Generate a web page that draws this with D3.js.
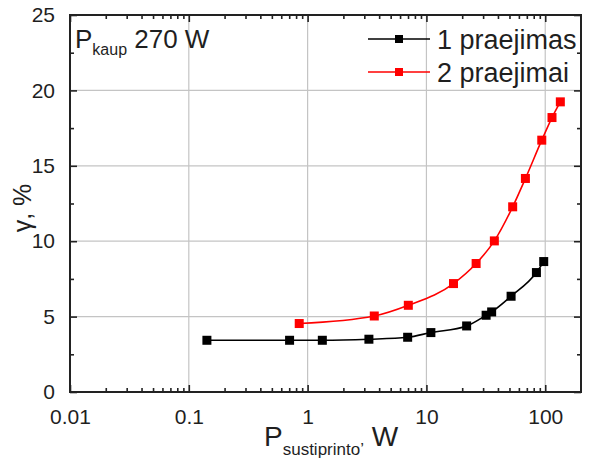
<!DOCTYPE html>
<html>
<head>
<meta charset="utf-8">
<script src="https://cdn.jsdelivr.net/npm/d3@7"></script>
<style>
  html, body { margin: 0; padding: 0; background: #fff; }
  svg { display: block; font-family: "Liberation Sans", Arial, sans-serif; }
</style>
</head>
<body>
<svg id="chart" width="594" height="459"></svg>
<script>
// Amplifier output power (W) vs. gamma (%) for one and two passes
const series1Name = "1 praejimas";
const series1X = [0.142, 0.705, 1.33, 3.28, 6.95, 10.9, 21.8, 31.8, 35.4, 51.6, 84.3, 97.1];
const series1Y = [3.43, 3.43, 3.43, 3.5, 3.63, 3.94, 4.38, 5.09, 5.31, 6.35, 7.92, 8.65];

const series2Name = "2 praejimai";
const series2X = [0.85, 3.64, 7.04, 16.9, 26.2, 37.3, 53.2, 68.1, 93.5, 114, 134];
const series2Y = [4.54, 5.04, 5.75, 7.19, 8.52, 10.02, 12.28, 14.16, 16.7, 18.2, 19.24];

const xMajorTicks = [0.01, 0.1, 1, 10, 100];
const xTickLabels = ["0.01", "0.1", "1", "10", "100"];
const yMajorTicks = [0, 5, 10, 15, 20, 25];
const yMinorTicks = [2.5, 7.5, 12.5, 17.5, 22.5];

const svg = d3.select("#chart");
const plotLeft = 70, plotRight = 581, plotTop = 15, plotBottom = 392;

const x = d3.scaleLog().domain([0.01, 200]).range([plotLeft, plotRight]);
const y = d3.scaleLinear().domain([0, 25]).range([plotBottom, plotTop]);

// minor log ticks 2..9 in each decade
const xMinorTicks = [];
[0.01, 0.1, 1, 10, 100].forEach(d => {
  for (let k = 2; k <= 9; k++) { const v = d * k; if (v < 200) xMinorTicks.push(v); }
});

const textColor = "#1f1f1f";

// grid
const grid = svg.append("g").attr("stroke", "#c4c4c4").attr("stroke-width", 1.2);
xMajorTicks.slice(1).forEach(v => {
  grid.append("line").attr("x1", x(v)).attr("x2", x(v)).attr("y1", plotTop).attr("y2", plotBottom);
});
yMajorTicks.slice(1, -1).forEach(v => {
  grid.append("line").attr("x1", plotLeft).attr("x2", plotRight).attr("y1", y(v)).attr("y2", y(v));
});

// axes with inward ticks
function styleAxis(g) {
  g.select(".domain").remove();
  g.selectAll(".tick line").attr("stroke", "#222").attr("stroke-width", 1.6);
  g.selectAll(".tick text").attr("fill", textColor).attr("font-size", 21)
    .attr("font-family", "Liberation Sans, Arial, sans-serif");
}

const fmtX = (d) => xTickLabels[xMajorTicks.indexOf(d)];

svg.append("g").attr("transform", `translate(0,${plotBottom})`)
  .call(d3.axisBottom(x).tickValues(xMajorTicks).tickFormat(fmtX).tickSizeInner(-7).tickSizeOuter(0).tickPadding(17))
  .call(styleAxis);
svg.append("g").attr("transform", `translate(0,${plotBottom})`)
  .call(d3.axisBottom(x).tickValues(xMinorTicks).tickFormat("").tickSizeInner(-4).tickSizeOuter(0))
  .call(styleAxis);
svg.append("g").attr("transform", `translate(0,${plotTop})`)
  .call(d3.axisTop(x).tickValues(xMajorTicks).tickFormat("").tickSizeInner(-7).tickSizeOuter(0))
  .call(styleAxis);
svg.append("g").attr("transform", `translate(0,${plotTop})`)
  .call(d3.axisTop(x).tickValues(xMinorTicks).tickFormat("").tickSizeInner(-4).tickSizeOuter(0))
  .call(styleAxis);

svg.append("g").attr("transform", `translate(${plotLeft},0)`)
  .call(d3.axisLeft(y).tickValues(yMajorTicks).tickFormat(d3.format("d")).tickSizeInner(-7).tickSizeOuter(0).tickPadding(15))
  .call(styleAxis);
svg.append("g").attr("transform", `translate(${plotLeft},0)`)
  .call(d3.axisLeft(y).tickValues(yMinorTicks).tickFormat("").tickSizeInner(-4).tickSizeOuter(0))
  .call(styleAxis);
svg.append("g").attr("transform", `translate(${plotRight},0)`)
  .call(d3.axisRight(y).tickValues(yMajorTicks).tickFormat("").tickSizeInner(-7).tickSizeOuter(0))
  .call(styleAxis);
svg.append("g").attr("transform", `translate(${plotRight},0)`)
  .call(d3.axisRight(y).tickValues(yMinorTicks).tickFormat("").tickSizeInner(-4).tickSizeOuter(0))
  .call(styleAxis);

// frame
svg.append("rect").attr("x", plotLeft).attr("y", plotTop)
  .attr("width", plotRight - plotLeft).attr("height", plotBottom - plotTop)
  .attr("fill", "none").attr("stroke", "#222").attr("stroke-width", 2);

// series
const line = d3.line().x(d => x(d[0])).y(d => y(d[1])).curve(d3.curveMonotoneX);
const markerSize = 9;

function drawSeries(xs, ys, color) {
  const pts = xs.map((v, i) => [v, ys[i]]);
  svg.append("path").datum(pts).attr("d", line)
    .attr("fill", "none").attr("stroke", color).attr("stroke-width", 1.6);
  svg.append("g").selectAll("rect").data(pts).join("rect")
    .attr("x", d => x(d[0]) - markerSize / 2)
    .attr("y", d => y(d[1]) - markerSize / 2)
    .attr("width", markerSize).attr("height", markerSize)
    .attr("fill", color);
}
drawSeries(series1X, series1Y, "#000");
drawSeries(series2X, series2Y, "#ff0000");

// legend
const legend = svg.append("g");
[[series1Name, "#000", 39], [series2Name, "#ff0000", 72]].forEach(([name, color, ly]) => {
  legend.append("line").attr("x1", 368).attr("x2", 430).attr("y1", ly).attr("y2", ly)
    .attr("stroke", color).attr("stroke-width", 1.6);
  legend.append("rect").attr("x", 399 - 4).attr("y", ly - 4).attr("width", 8).attr("height", 8).attr("fill", color);
  legend.append("text").attr("x", 437).attr("y", ly + 10).attr("font-size", 27)
    .attr("fill", textColor).text(name);
});

// annotation: P_kaup 270 W
const ann = svg.append("text").attr("x", 75).attr("y", 48).attr("font-size", 26).attr("fill", textColor);
ann.append("tspan").text("P");
ann.append("tspan").attr("font-size", 16).attr("dy", 7).text("kaup");
ann.append("tspan").attr("dy", -7).text(" 270 W");

// x axis title
const xt = svg.append("text").attr("x", 264).attr("y", 446).attr("font-size", 28).attr("fill", textColor);
xt.append("tspan").text("P");
xt.append("tspan").attr("font-size", 17).attr("dy", 9).text("sustiprinto’");
xt.append("tspan").attr("dy", -9).text(" W");

// y axis title
svg.append("text").attr("transform", "translate(31,208) rotate(-90)")
  .attr("text-anchor", "middle").attr("font-size", 25).attr("fill", textColor)
  .text("γ, %");
</script>
</body>
</html>
